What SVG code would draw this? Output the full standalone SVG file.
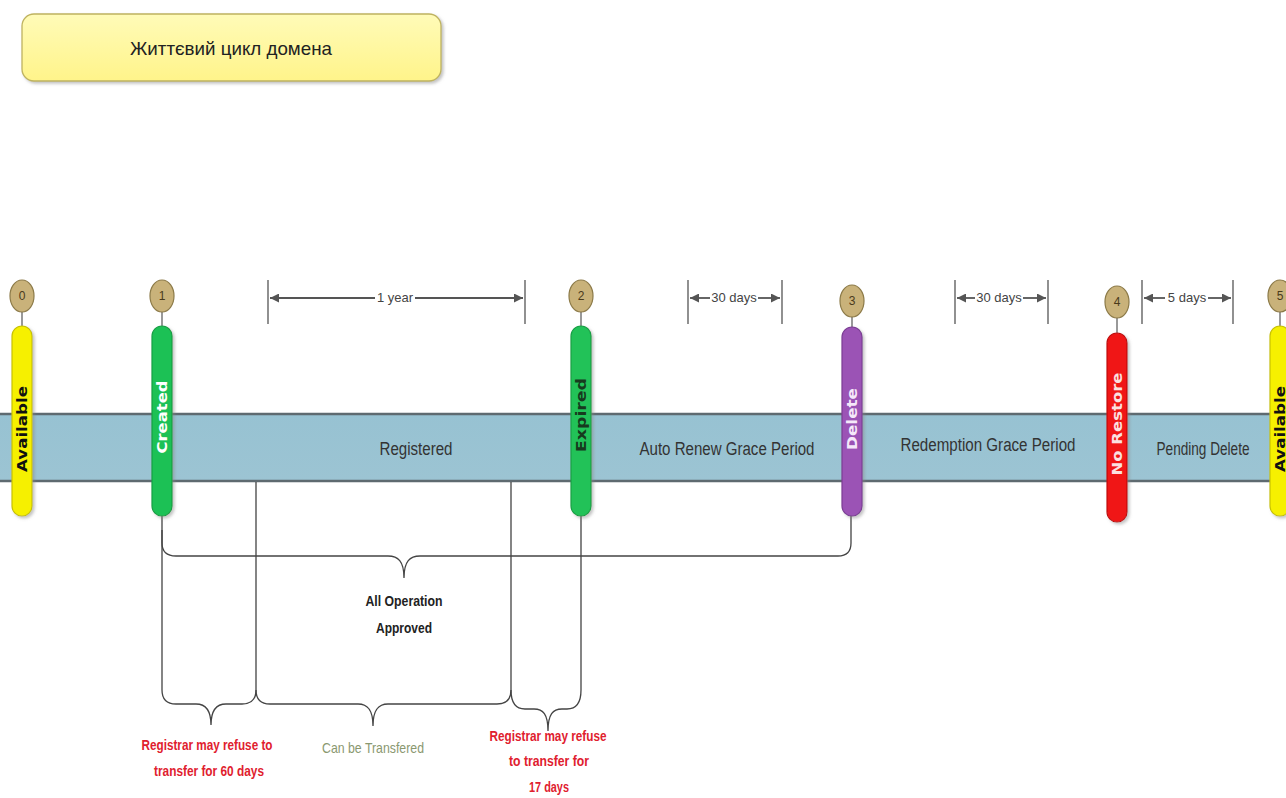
<svg xmlns="http://www.w3.org/2000/svg" width="1286" height="798" viewBox="0 0 1286 798">
<defs>
<filter id="sh" x="-50%" y="-10%" width="200%" height="120%">
<feDropShadow dx="2" dy="2" stdDeviation="1.5" flood-color="#888" flood-opacity="0.5"/>
</filter>
<linearGradient id="gTitle" x1="0" y1="0" x2="0" y2="1">
<stop offset="0" stop-color="#FFFBB8"/><stop offset="1" stop-color="#FFF48A"/>
</linearGradient>
<linearGradient id="gBand" x1="0" y1="0" x2="0" y2="1">
<stop offset="0" stop-color="#97C2D2"/><stop offset="1" stop-color="#9CC4D3"/>
</linearGradient>
<marker id="arr" viewBox="0 0 10 10" refX="10" refY="5" markerWidth="9" markerHeight="9" orient="auto-start-reverse" markerUnits="userSpaceOnUse">
<path d="M0,0 L10,5 L0,10 z" fill="#555"/>
</marker>
<style>
.pill{stroke-width:1.2;filter:url(#sh)}
.circ{fill:#C9B27A;stroke:#8C7A48;stroke-width:1.2}
.num{font-family:"Liberation Sans",sans-serif;font-size:12px;fill:#4a3a1a;text-anchor:middle}
.ptxt{font-family:"DejaVu Sans","Liberation Sans",sans-serif;font-weight:bold;font-size:14px;text-anchor:middle}
.band{font-family:"Liberation Sans",sans-serif;font-size:18px;fill:#333;text-anchor:middle}
.dim{font-family:"Liberation Sans",sans-serif;font-size:13px;fill:#444;text-anchor:middle}
.tick{stroke:#555;stroke-width:1.3}
.dl{stroke:#555;stroke-width:1.8;fill:none}
.br{stroke:#444;stroke-width:1.3;fill:none}
.stem{stroke:#555;stroke-width:1.2}
.lbl{font-family:"Liberation Sans",sans-serif;font-size:15px;text-anchor:middle}
.red{fill:#E0202E}
</style>
</defs>
<rect width="1286" height="798" fill="#fff"/>

<g id="title">
<rect x="22" y="14" width="419" height="67" rx="12" fill="url(#gTitle)" stroke="#BFB360" stroke-width="1.3" filter="url(#sh)"/>
<text x="231" y="55" font-family="'Liberation Sans',sans-serif" font-size="19" fill="#222" text-anchor="middle" textLength="202" lengthAdjust="spacingAndGlyphs">Життєвий цикл домена</text>
</g>

<g id="band">
<rect x="0" y="413" width="1286" height="69" fill="url(#gBand)"/>
<line x1="0" y1="414" x2="1286" y2="414" stroke="#5E6A70" stroke-width="2.5"/>
<line x1="0" y1="481" x2="1286" y2="481" stroke="#5E6A70" stroke-width="2.5"/>
<text class="band" x="416" y="455" textLength="73" lengthAdjust="spacingAndGlyphs">Registered</text>
<text class="band" x="727" y="455" textLength="175" lengthAdjust="spacingAndGlyphs">Auto Renew Grace Period</text>
<text class="band" x="988" y="451" textLength="175" lengthAdjust="spacingAndGlyphs">Redemption Grace Period</text>
<text class="band" x="1203" y="455" textLength="93" lengthAdjust="spacingAndGlyphs">Pending Delete</text>
</g>

<g id="connectors">
<path class="br" d="M162,515 V690 Q162,704 176,704 H196 C205,704 211,709 211,725 C211,709 217,704 226,704 H242 Q256,704 256,690 V482"/>
<path class="br" d="M256,690 Q256,704 270,704 H358 C367,704 373,709 373,726 C373,709 379,704 388,704 H497 Q511,704 511,690 V482"/>
<path class="br" d="M511,690 Q511,709 525,709 H534 C543,709 548,714 548,731 C548,714 553,709 562,709 H567 Q581,709 581,690 V515"/>
<path class="br" d="M162,530 V543 Q162,556 176,556 H388 C398,556 404,561 404,578 C404,561 410,556 420,556 H838 Q851,556 851,543 V515"/>
<line class="tick" x1="268" y1="280" x2="268" y2="324"/>
<line class="tick" x1="525" y1="280" x2="525" y2="324"/>
<line class="dl" x1="375" y1="298" x2="270" y2="298" marker-end="url(#arr)"/>
<line class="dl" x1="415" y1="298" x2="523" y2="298" marker-end="url(#arr)"/>
<line class="tick" x1="688" y1="280" x2="688" y2="324"/>
<line class="tick" x1="782" y1="280" x2="782" y2="324"/>
<line class="dl" x1="710" y1="298" x2="690" y2="298" marker-end="url(#arr)"/>
<line class="dl" x1="758" y1="298" x2="780" y2="298" marker-end="url(#arr)"/>
<line class="tick" x1="955" y1="280" x2="955" y2="324"/>
<line class="tick" x1="1048" y1="280" x2="1048" y2="324"/>
<line class="dl" x1="975" y1="298" x2="957" y2="298" marker-end="url(#arr)"/>
<line class="dl" x1="1023" y1="298" x2="1046" y2="298" marker-end="url(#arr)"/>
<line class="tick" x1="1142" y1="280" x2="1142" y2="324"/>
<line class="tick" x1="1233" y1="280" x2="1233" y2="324"/>
<line class="dl" x1="1165" y1="298" x2="1144" y2="298" marker-end="url(#arr)"/>
<line class="dl" x1="1208" y1="298" x2="1231" y2="298" marker-end="url(#arr)"/>
<line class="stem" x1="22" y1="312" x2="22" y2="327"/>
<line class="stem" x1="162" y1="312" x2="162" y2="327"/>
<line class="stem" x1="581" y1="312" x2="581" y2="327"/>
<line class="stem" x1="852" y1="317" x2="852" y2="328"/>
<line class="stem" x1="1117" y1="318" x2="1117" y2="334"/>
<line class="stem" x1="1280" y1="312" x2="1280" y2="327"/>
</g>

<g id="dims">
<text class="dim" x="395" y="302">1 year</text>
<text class="dim" x="734" y="302">30 days</text>
<text class="dim" x="999" y="302">30 days</text>
<text class="dim" x="1187" y="302">5 days</text>
</g>

<g id="n0">
<ellipse class="circ" cx="22" cy="296" rx="12" ry="16"/>
<text class="num" x="22" y="300">0</text>
<rect class="pill" x="12" y="326" width="20" height="190" rx="10" fill="#F6F000" stroke="#C8C200"/>
<text class="ptxt" transform="translate(27,429) rotate(-90)" fill="#111" textLength="86" lengthAdjust="spacingAndGlyphs">Available</text>
</g>

<g id="n1">
<ellipse class="circ" cx="162" cy="296" rx="12" ry="16"/>
<text class="num" x="162" y="300">1</text>
<rect class="pill" x="152" y="326" width="20" height="190" rx="10" fill="#1FC155" stroke="#17A045"/>
<text class="ptxt" transform="translate(167,417) rotate(-90)" fill="#fff" textLength="73" lengthAdjust="spacingAndGlyphs">Created</text>
</g>

<g id="n2">
<ellipse class="circ" cx="581" cy="296" rx="12" ry="16"/>
<text class="num" x="581" y="300">2</text>
<rect class="pill" x="571" y="326" width="20" height="190" rx="10" fill="#22C258" stroke="#17A045"/>
<text class="ptxt" transform="translate(586,415) rotate(-90)" fill="#173A1E" textLength="74" lengthAdjust="spacingAndGlyphs">Expired</text>
</g>

<g id="n3">
<ellipse class="circ" cx="852" cy="301" rx="12" ry="16"/>
<text class="num" x="852" y="305">3</text>
<rect class="pill" x="842" y="327" width="20" height="189" rx="10" fill="#9B52B5" stroke="#7C3E95"/>
<text class="ptxt" transform="translate(857,419) rotate(-90)" fill="#F5E8FA" textLength="62" lengthAdjust="spacingAndGlyphs">Delete</text>
</g>

<g id="n4">
<ellipse class="circ" cx="1117" cy="302" rx="12" ry="16"/>
<text class="num" x="1117" y="306">4</text>
<rect class="pill" x="1107" y="333" width="20" height="189" rx="10" fill="#F01414" stroke="#C01010"/>
<text class="ptxt" transform="translate(1122,424) rotate(-90)" fill="#FBE0E0" textLength="103" lengthAdjust="spacingAndGlyphs">No Restore</text>
</g>

<g id="n5">
<ellipse class="circ" cx="1280" cy="296" rx="12" ry="16"/>
<text class="num" x="1280" y="300">5</text>
<rect class="pill" x="1270" y="326" width="20" height="190" rx="10" fill="#F6F000" stroke="#C8C200"/>
<text class="ptxt" transform="translate(1285,429) rotate(-90)" fill="#111" textLength="86" lengthAdjust="spacingAndGlyphs">Available</text>
</g>

<g id="labels">
<text class="lbl" x="404" y="606" fill="#222" font-weight="bold" textLength="77" lengthAdjust="spacingAndGlyphs">All Operation</text>
<text class="lbl" x="404" y="633" fill="#222" font-weight="bold" textLength="56" lengthAdjust="spacingAndGlyphs">Approved</text>
<text class="lbl red" x="207" y="750" font-weight="bold" textLength="131" lengthAdjust="spacingAndGlyphs">Registrar may refuse to</text>
<text class="lbl red" x="209" y="776" font-weight="bold" textLength="110" lengthAdjust="spacingAndGlyphs">transfer for 60 days</text>
<text class="lbl" x="373" y="753" fill="#8A9870" textLength="102" lengthAdjust="spacingAndGlyphs">Can be Transfered</text>
<text class="lbl red" x="548" y="741" font-weight="bold" textLength="117" lengthAdjust="spacingAndGlyphs">Registrar may refuse</text>
<text class="lbl red" x="549" y="766" font-weight="bold" textLength="80" lengthAdjust="spacingAndGlyphs">to transfer for</text>
<text class="lbl red" x="549" y="792" font-weight="bold" textLength="40" lengthAdjust="spacingAndGlyphs">17 days</text>
</g>
</svg>
